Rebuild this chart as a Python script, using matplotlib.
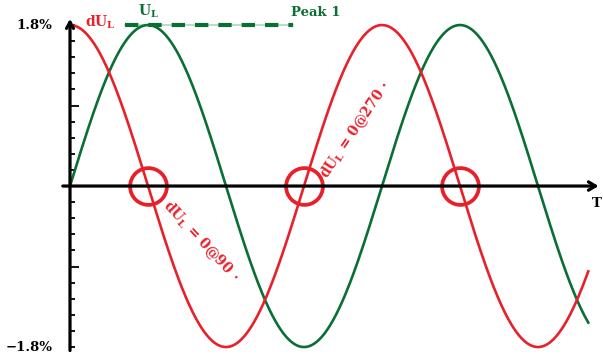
import matplotlib
matplotlib.use('Agg')
import matplotlib.pyplot as plt
import numpy as np

plt.rcParams['font.family'] = 'DejaVu Serif'
plt.rcParams['mathtext.fontset'] = 'dejavuserif'

# Chart values
amplitude = 1.8            # peak value in %
t_end = 598                # phase (degrees) where the curves stop
zero_marks = [90, 270, 450]  # where dU_L crosses zero
peak_line = [63, 257]      # span of the "Peak 1" dashed line (degrees)
y_ticks = np.arange(-10, 11) * 0.18
y_labels = {1.8: '1.8%', -1.8: '\u22121.8%'}

red = '#e8202a'
green = '#0b6e35'

t = np.linspace(0, t_end, 800)
u_l = amplitude * np.sin(np.radians(t))
du_l = amplitude * np.cos(np.radians(t))

fig = plt.figure(figsize=(6.03, 3.60), dpi=100)
ax = fig.add_axes([0, 0, 1, 1])
ax.set_xlim(-80.77, 615.0)
ax.set_ylim(-1.945, 2.080)
ax.axis('off')

# axes with arrows
ax.annotate('', xy=(613, 0), xytext=(-11.5, 0),
            arrowprops=dict(arrowstyle='->,head_length=0.5,head_width=0.3', lw=2.3, color='black'))
ax.annotate('', xy=(0, 1.90), xytext=(0, -1.87),
            arrowprops=dict(arrowstyle='->,head_length=0.45,head_width=0.25', lw=2.3, color='black'))

# y ticks
for v in y_ticks:
    if abs(v) < 1e-9:
        continue
    length = 10.5 if abs(abs(v) - 0.9) < 1e-6 else 5.5
    ax.plot([0, length], [v, v], color='black', lw=1.3, solid_capstyle='butt')
for v, s in y_labels.items():
    ax.text(-20, v, s, ha='right', va='center', fontsize=9.5, fontweight='bold')

# peak line
ax.plot(peak_line, [amplitude, amplitude], color='#a9d9b4', lw=1.2)
ax.plot(peak_line, [amplitude, amplitude], color=green, lw=3, dashes=(3.2, 2.4))

# curves
ax.plot(t, u_l, color=green, lw=1.9)
ax.plot(t, du_l, color=red, lw=1.9)

# zero-crossing circles
ax.plot(zero_marks, [0] * len(zero_marks), 'o', ms=26.5, mfc='none', mec=red, mew=2.7)

# labels
ax.text(90, 1.955, r'$\mathbf{U_L}$', color=green, ha='center', va='center', fontsize=10)
ax.text(284, 1.935, 'Peak 1', color=green, ha='center', va='center', fontsize=9.5, fontweight='bold')
ax.text(17, 1.83, r'$\mathbf{dU_L}$', color=red, ha='left', va='center', fontsize=10)
ax.text(608, -0.2, 'T', ha='center', va='center', fontsize=9.5, fontweight='bold')
ax.text(151, -0.62, r'$\mathbf{dU_L}$ = 0@90 $\mathbf{\cdot}$', color=red, ha='center', va='center',
        fontsize=10, fontweight='bold', rotation=-47, rotation_mode='anchor')
ax.text(329, 0.63, r'$\mathbf{dU_L}$ = 0@270 $\mathbf{\cdot}$', color=red, ha='center', va='center',
        fontsize=10, fontweight='bold', rotation=56, rotation_mode='anchor')

fig.savefig('out.png', dpi=100)
